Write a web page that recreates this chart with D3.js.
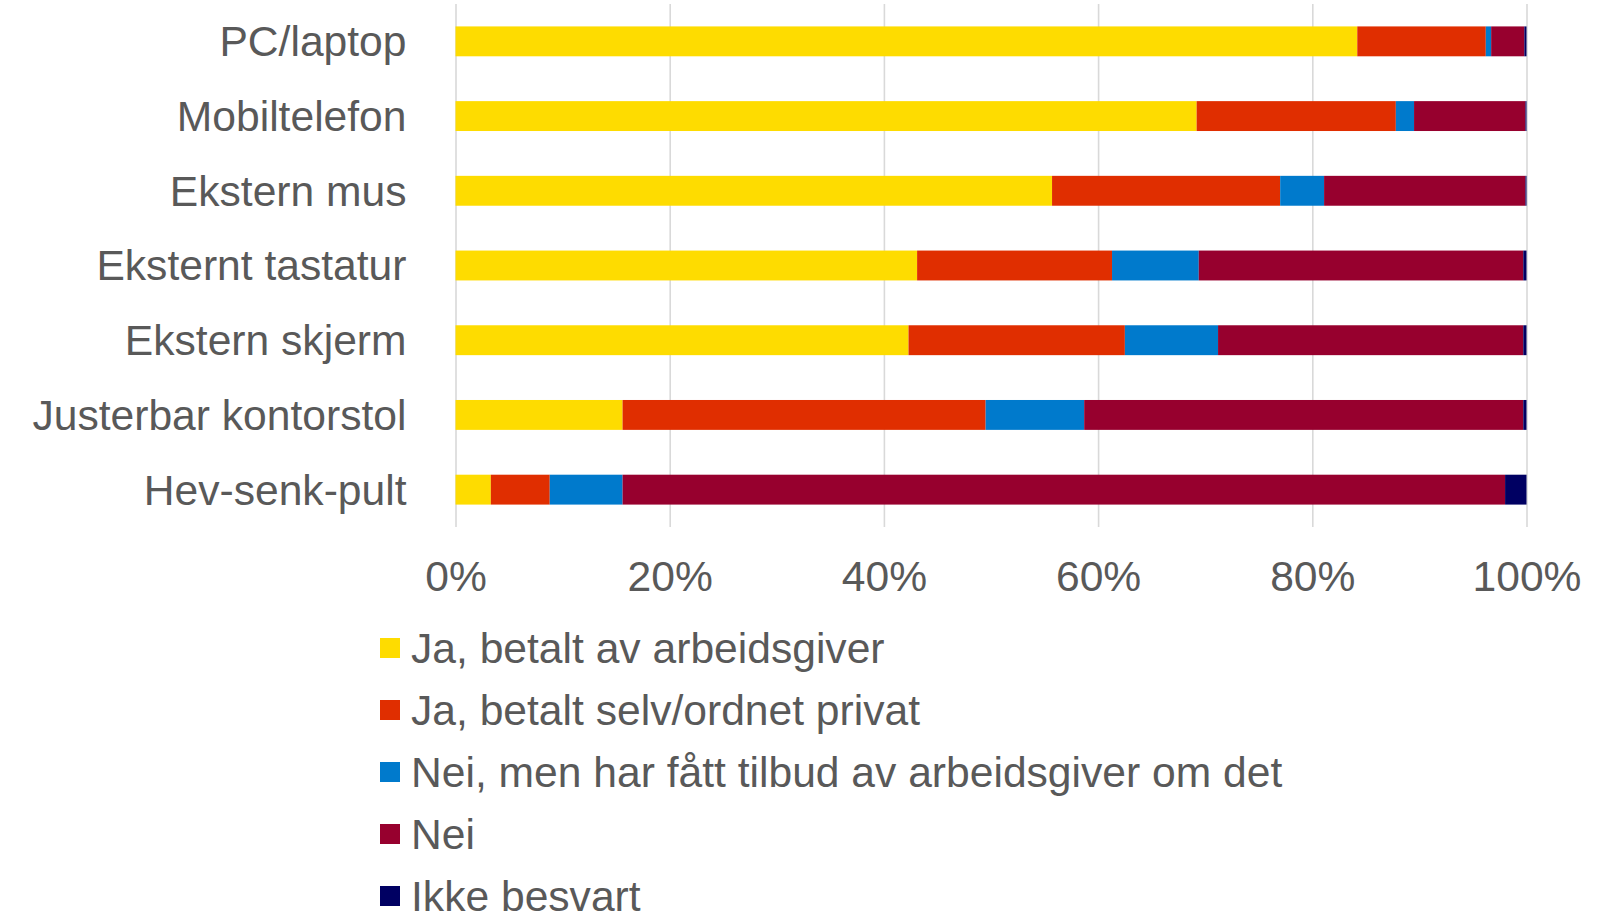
<!DOCTYPE html>
<html>
<head>
<meta charset="utf-8">
<script src="https://cdn.jsdelivr.net/npm/d3@7"></script>
<style>
  html, body { margin: 0; padding: 0; background: #ffffff; }
  svg { display: block; }
  text { font-family: "Liberation Sans", Arial, sans-serif; fill: #595959; }
</style>
</head>
<body>
<svg id="chart" width="1619" height="917"></svg>
<script>
const categories = ["PC/laptop", "Mobiltelefon", "Ekstern mus", "Eksternt tastatur", "Ekstern skjerm", "Justerbar kontorstol", "Hev-senk-pult"];
const seriesNames = ["Ja, betalt av arbeidsgiver", "Ja, betalt selv/ordnet privat", "Nei, men har fått tilbud av arbeidsgiver om det", "Nei", "Ikke besvart"];
const jaArbeidsgiver = [84.2, 69.2, 55.7, 43.1, 42.3, 15.6, 3.3];
const jaSelv        = [12.0, 18.6, 21.3, 18.2, 20.2, 33.9, 5.5];
const neiTilbud     = [0.5, 1.7, 4.1, 8.1, 8.7, 9.2, 6.8];
const nei           = [3.1, 10.4, 18.8, 30.3, 28.5, 41.0, 82.4];
const ikkeBesvart   = [0.2, 0.1, 0.1, 0.3, 0.3, 0.3, 2.0];
const tickValues = [0, 0.2, 0.4, 0.6, 0.8, 1.0];
const colors = ["#FEDC00", "#E02E00", "#007ACC", "#97002E", "#000062"];

const seriesValues = [jaArbeidsgiver, jaSelv, neiTilbud, nei, ikkeBesvart];
const rows = categories.map((c, i) => {
  const r = { category: c };
  seriesNames.forEach((s, j) => { r[s] = seriesValues[j][i] / 100; });
  return r;
});

const svg = d3.select("#chart");
const x0 = 455.5, x1 = 1526.5, yTop = 4, yBottom = 527;
const fontSize = 42.6;

const x = d3.scaleLinear().domain([0, 1]).range([x0, x1]);
const y = d3.scaleBand().domain(categories).range([yTop, yBottom]).paddingInner(0.6).paddingOuter(0.3);
const color = d3.scaleOrdinal().domain(seriesNames).range(colors);

// gridlines
const grid = svg.append("g").attr("transform", `translate(0,${yBottom})`)
  .call(d3.axisBottom(x).tickValues(tickValues).tickSize(-(yBottom - yTop)).tickFormat(""));
grid.select(".domain").remove();
grid.selectAll("line").attr("stroke", "#d9d9d9").attr("stroke-width", 1.6);

// stacked bars
const stack = d3.stack().keys(seriesNames);
const stacked = stack(rows);
svg.append("g").selectAll("g").data(stacked).join("g")
  .attr("fill", d => color(d.key))
  .selectAll("rect").data(d => d).join("rect")
  .attr("x", d => x(d[0]))
  .attr("y", d => y(d.data.category))
  .attr("width", d => Math.max(0, x(d[1]) - x(d[0])))
  .attr("height", y.bandwidth());

// x-axis tick labels
const xAxis = svg.append("g").attr("transform", `translate(0,${yBottom})`)
  .call(d3.axisBottom(x).tickValues(tickValues).tickSize(0).tickPadding(0).tickFormat(d3.format(".0%")));
xAxis.select(".domain").remove();
xAxis.selectAll("text").attr("font-size", fontSize).attr("fill", "#595959")
  .attr("font-family", "Liberation Sans, Arial, sans-serif")
  .attr("dy", null).attr("y", 64);

// y-axis category labels
const yAxis = svg.append("g").attr("transform", `translate(${x0},0)`)
  .call(d3.axisLeft(y).tickSize(0).tickPadding(49));
yAxis.select(".domain").remove();
yAxis.selectAll("text").attr("font-size", fontSize).attr("fill", "#595959")
  .attr("font-family", "Liberation Sans, Arial, sans-serif")
  .attr("dy", "0.35em");

// legend
const legend = svg.append("g").attr("transform", "translate(380,648)");
const item = legend.selectAll("g").data(seriesNames).join("g")
  .attr("transform", (d, i) => `translate(0,${i * 62})`);
item.append("rect").attr("x", 0).attr("y", -10).attr("width", 20).attr("height", 20).attr("fill", d => color(d));
item.append("text").attr("x", 31).attr("y", 15).attr("font-size", fontSize).text(d => d);
</script>
</body>
</html>
